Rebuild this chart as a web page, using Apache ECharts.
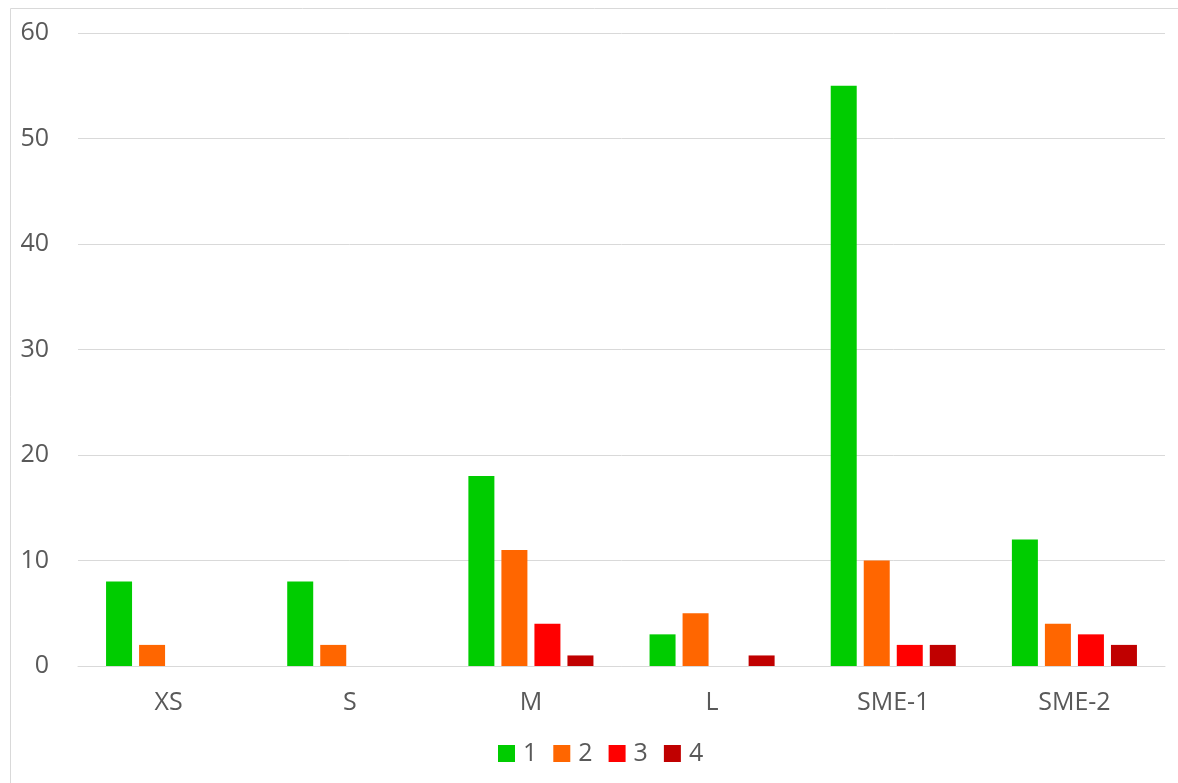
<!DOCTYPE html>
<html>
<head>
<meta charset="utf-8">
<script src="https://cdn.jsdelivr.net/npm/echarts@6/dist/echarts.min.js"></script>
<style>
  html, body { margin: 0; padding: 0; background: #ffffff; }
  #chart { width: 1178px; height: 783px; }
</style>
</head>
<body>
<div id="chart"></div>
<script>
// Company size classes along the x axis
const categories = ['XS', 'S', 'M', 'L', 'SME-1', 'SME-2'];

// Counts per class for each rating group
const series1 = [8, 8, 18, 3, 55, 12];
const series2 = [2, 2, 11, 5, 10, 4];
const series3 = [0, 0, 4, 0, 2, 3];
const series4 = [0, 0, 1, 1, 2, 2];

const seriesNames = ['1', '2', '3', '4'];
const seriesColors = ['#00cc00', '#ff6600', '#ff0000', '#c00000'];

// Value axis ticks
const yMin = 0, yMax = 60, yStep = 10;

const textColor = '#595959';
const fontFamily = '"Open Sans", "Liberation Sans", sans-serif';
const fontSize = 25;
const gridColor = '#d9d9d9';

const chart = echarts.init(document.getElementById('chart'), null, { renderer: 'canvas' });

const data = [series1, series2, series3, series4];

chart.setOption({
  animation: false,
  textStyle: { fontFamily: fontFamily },
  graphic: [{
    type: 'rect',
    left: 8, top: 6,
    shape: { width: 1200, height: 820 },
    style: { fill: 'none', stroke: gridColor, lineWidth: 1 },
    silent: true
  }],
  grid: { left: 78, right: 13, top: 33, bottom: 117 },
  legend: {
    data: seriesNames,
    left: 498,
    top: 741,
    padding: 0,
    icon: 'rect',
    itemWidth: 17,
    itemHeight: 17,
    itemGap: 16,
    textStyle: { color: textColor, fontSize: fontSize, fontFamily: fontFamily, padding: [0, 0, 0, 3] }
  },
  xAxis: {
    type: 'category',
    data: categories,
    axisLine: { lineStyle: { color: gridColor, width: 1 } },
    axisTick: { show: false },
    axisLabel: { color: textColor, fontSize: fontSize, margin: 24, fontFamily: fontFamily }
  },
  yAxis: {
    type: 'value',
    min: yMin, max: yMax, interval: yStep,
    axisLine: { show: false },
    axisTick: { show: false },
    axisLabel: { color: textColor, fontSize: fontSize, margin: 29, fontFamily: fontFamily },
    splitLine: { lineStyle: { color: gridColor, width: 1 } }
  },
  series: seriesNames.map((name, i) => ({
    name: name,
    type: 'bar',
    data: data[i],
    barWidth: 26,
    barGap: '27%',
    itemStyle: { color: seriesColors[i] }
  }))
});
</script>
</body>
</html>
